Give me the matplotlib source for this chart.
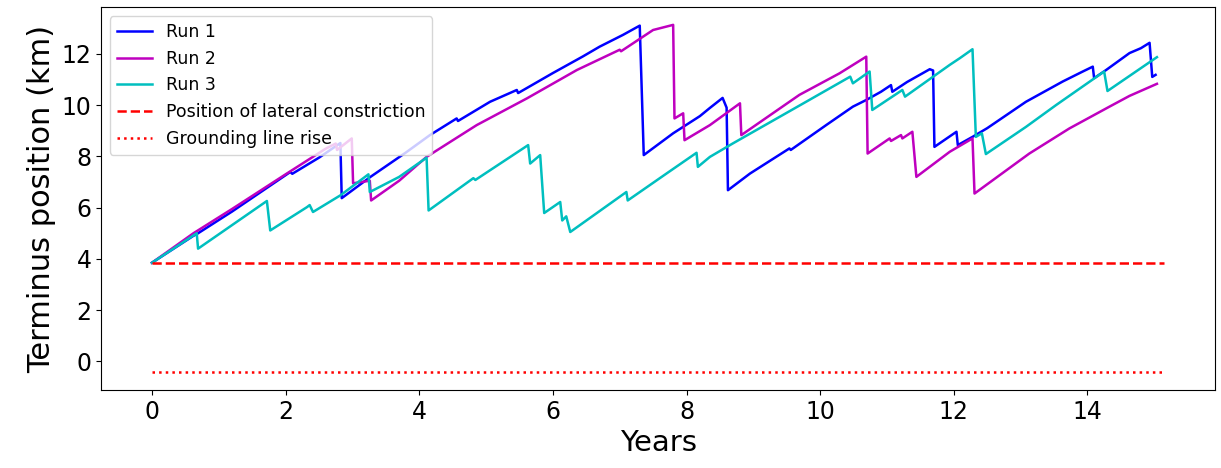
import numpy as np
import matplotlib
matplotlib.use('Agg')
import matplotlib.pyplot as plt

# values (years, km)
run1_t = [0, 0.62, 0.66, 1.2, 2.07, 2.1, 2.5, 2.82, 2.84, 3.27, 3.8, 4.16, 4.56, 4.58, 5.06, 5.46, 5.48,
          6.0, 6.45, 6.7, 7.05, 7.3, 7.36, 7.8, 8.2, 8.35, 8.54, 8.6, 8.62, 8.95, 9.54, 9.56,
          10.09, 10.49, 10.69, 10.91, 11.06, 11.08, 11.3, 11.64, 11.69, 11.71, 12.04, 12.06,
          12.28, 12.5, 13.08, 13.63, 13.93, 14.08, 14.1, 14.28, 14.63, 14.8, 14.93, 14.97, 15.02]
run1_y = [3.85, 4.9, 4.95, 5.85, 7.39, 7.32, 7.95, 8.52, 6.37, 7.2, 8.15, 8.83, 9.48, 9.38, 10.13, 10.59, 10.47,
          11.25, 11.9, 12.28, 12.74, 13.1, 8.05, 8.9, 9.57, 9.89, 10.28, 9.9, 6.68, 7.33, 8.31, 8.25,
          9.22, 9.94, 10.2, 10.52, 10.78, 10.52, 10.9, 11.4, 11.35, 8.37, 8.96, 8.44,
          8.76, 9.1, 10.13, 10.92, 11.31, 11.5, 11.05, 11.37, 12.03, 12.22, 12.43, 11.1, 11.18]

run2_t = [0, 0.62, 1.2, 2.0, 2.6, 2.75, 2.77, 2.99, 3.01, 3.26, 3.28, 3.7, 4.11, 4.86, 5.61, 6.36,
          7.0, 7.02, 7.5, 7.8, 7.82, 7.95, 7.97, 8.35, 8.8, 8.82, 9.69, 10.29, 10.69, 10.71,
          11.04, 11.06, 11.21, 11.23, 11.38, 11.44, 11.94, 12.28, 12.31, 13.13, 13.73, 14.33,
          14.63, 15.04]
run2_y = [3.85, 5.0, 5.95, 7.3, 8.3, 8.5, 8.25, 8.7, 6.95, 7.05, 6.28, 7.05, 7.98, 9.22, 10.26, 11.37,
          12.16, 12.1, 12.93, 13.13, 9.48, 9.68, 8.63, 9.22, 10.07, 8.83, 10.4, 11.24, 11.89, 8.11,
          8.7, 8.6, 8.83, 8.7, 8.96, 7.2, 8.18, 8.7, 6.55, 8.11, 9.09, 9.94,
          10.36, 10.83]

run3_t = [0, 0.67, 0.69, 1.72, 1.77, 2.32, 2.36, 2.41, 2.82, 3.24, 3.26, 3.7, 4.11, 4.14, 4.81, 4.84,
          5.63, 5.66, 5.81, 5.87, 6.11, 6.14, 6.2, 6.26, 7.1, 7.12, 7.7, 8.15, 8.17, 8.35, 8.69,
          9.79, 10.45, 10.49, 10.74, 10.78, 11.23, 11.27, 11.94, 12.09, 12.28, 12.33, 12.42,
          12.48, 13.08, 13.53, 14.25, 14.3, 15.04]
run3_y = [3.85, 5.0, 4.4, 6.26, 5.11, 6.02, 6.1, 5.83, 6.48, 7.3, 6.61, 7.2, 7.95, 5.89, 7.15, 7.08,
          8.44, 7.72, 8.05, 5.79, 6.22, 5.5, 5.66, 5.05, 6.61, 6.28, 7.33, 8.14, 7.59, 7.98, 8.5,
          10.13, 11.11, 10.85, 11.31, 9.81, 10.59, 10.33, 11.57, 11.83, 12.18, 8.76, 8.9,
          8.09, 9.15, 10.0, 11.31, 10.55, 11.87]

t_ref = [0, 15.15]
constriction = [3.85, 3.85]
grounding_rise = [-0.43, -0.43]

fig = plt.figure(figsize=(12.21, 4.68), dpi=100)
ax = fig.add_axes([0.083, 0.167, 0.912, 0.817])

ax.plot(run1_t, run1_y, color='b', lw=1.8, label='Run 1')
ax.plot(run2_t, run2_y, color='m', lw=1.8, label='Run 2')
ax.plot(run3_t, run3_y, color='c', lw=1.8, label='Run 3')
ax.plot(t_ref, constriction, 'r--', lw=1.8, label='Position of lateral constriction')
ax.plot(t_ref, grounding_rise, 'r:', lw=1.8, label='Grounding line rise')

ax.set_xticks(np.arange(0, 15, 2))
ax.set_yticks(np.arange(0, 13, 2))
ax.tick_params(labelsize=17)
ax.set_xlabel('Years', fontsize=21)
ax.set_ylabel('Terminus position (km)', fontsize=22)
ax.legend(loc='upper left', fontsize=12.5)

fig.savefig('out.png', dpi=100)
